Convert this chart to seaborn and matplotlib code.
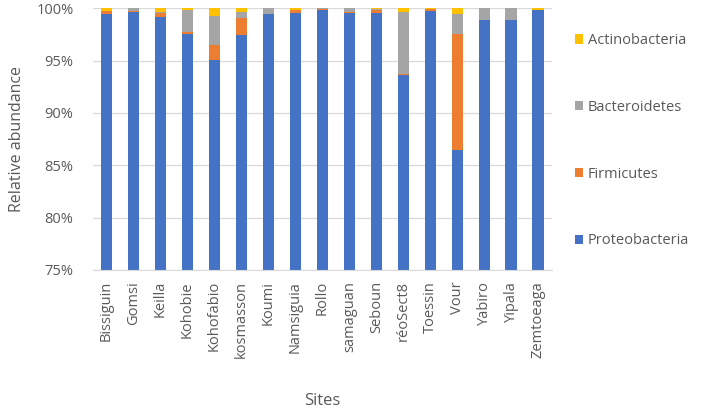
import pandas as pd
import numpy as np
import matplotlib.pyplot as plt
import seaborn as sns
from matplotlib.patches import Patch
from matplotlib.ticker import PercentFormatter

# ------------------------- DATI -------------------------

sites = ["Bissiguin", "Gomsi", "Keilla", "Kohobie", "Kohofabio", "kosmasson", "Koumi",
         "Namsiguia", "Rollo", "samaguan", "Seboun", "réoSect8", "Toessin", "Vour",
         "Yabiro", "Yipala", "Zemtoeaga"]

proteobacteria = [99.4, 99.65, 99.15, 97.55, 95.05, 97.45, 99.4, 99.55, 99.85, 99.55,
                  99.55, 93.6, 99.75, 86.45, 98.9, 98.9, 99.8]
firmicutes = [0.3, 0.05, 0.35, 0.15, 1.45, 1.65, 0.05, 0.25, 0.05, 0.05,
              0.25, 0.15, 0.2, 11.1, 0.0, 0.0, 0.05]
bacteroidetes = [0.05, 0.3, 0.1, 2.1, 2.75, 0.5, 0.55, 0.0, 0.1, 0.4,
                 0.1, 5.9, 0.0, 1.85, 1.1, 1.1, 0.0]
actinobacteria = [0.25, 0.0, 0.4, 0.2, 0.75, 0.4, 0.0, 0.2, 0.0, 0.0,
                  0.1, 0.35, 0.05, 0.6, 0.0, 0.0, 0.15]

phyla = ["Proteobacteria", "Firmicutes", "Bacteroidetes", "Actinobacteria"]
colors = ["#4472C4", "#ED7D31", "#A5A5A5", "#FFC000"]

df = pd.DataFrame({"Site": sites, "Proteobacteria": proteobacteria,
                   "Firmicutes": firmicutes, "Bacteroidetes": bacteroidetes,
                   "Actinobacteria": actinobacteria})

# cumulative for stacking (draw tallest first)
cum = df[phyla].cumsum(axis=1)
cum["Site"] = df["Site"]

# ------------------------- PLOT -------------------------

sns.set_style("white")
plt.rcParams['font.family'] = ['Open Sans', 'DejaVu Sans']
text_col = "#595959"

fig = plt.figure(figsize=(7.02, 4.09), dpi=100)
ax = fig.add_axes([0.1325, 0.340, 0.6535, 0.640])

for phylum, col in reversed(list(zip(phyla, colors))):
    sns.barplot(data=cum, x="Site", y=phylum, color=col, width=0.43,
                saturation=1, linewidth=0, ax=ax, zorder=3)

ax.set_ylim(75, 100)
ax.set_yticks([75, 80, 85, 90, 95, 100])
ax.yaxis.set_major_formatter(PercentFormatter(decimals=0))
ax.grid(axis="y", color="#D9D9D9", linewidth=0.9, zorder=0)
ax.set_axisbelow(True)

for s in ["top", "right", "left"]:
    ax.spines[s].set_visible(False)
ax.spines["bottom"].set_color("#D9D9D9")
ax.spines["bottom"].set_zorder(4)

ax.tick_params(axis="x", rotation=90, labelsize=10.5, colors=text_col, length=0, pad=8)
ax.tick_params(axis="y", labelsize=10.5, colors=text_col, length=0, pad=14)

ax.set_xlabel("Sites", fontsize=12, color=text_col, labelpad=25)
ax.set_ylabel("Relative abundance", fontsize=11.5, color=text_col, labelpad=8)

handles = [Patch(facecolor=c, edgecolor="none") for c in reversed(colors)]
fig.legend(handles, list(reversed(phyla)), loc="center left",
           bbox_to_anchor=(0.800, 0.656), frameon=False, fontsize=10.5,
           labelcolor=text_col, handlelength=0.6, handleheight=0.6,
           handletextpad=0.3, labelspacing=3.55)

plt.savefig("out.png", dpi=100)
